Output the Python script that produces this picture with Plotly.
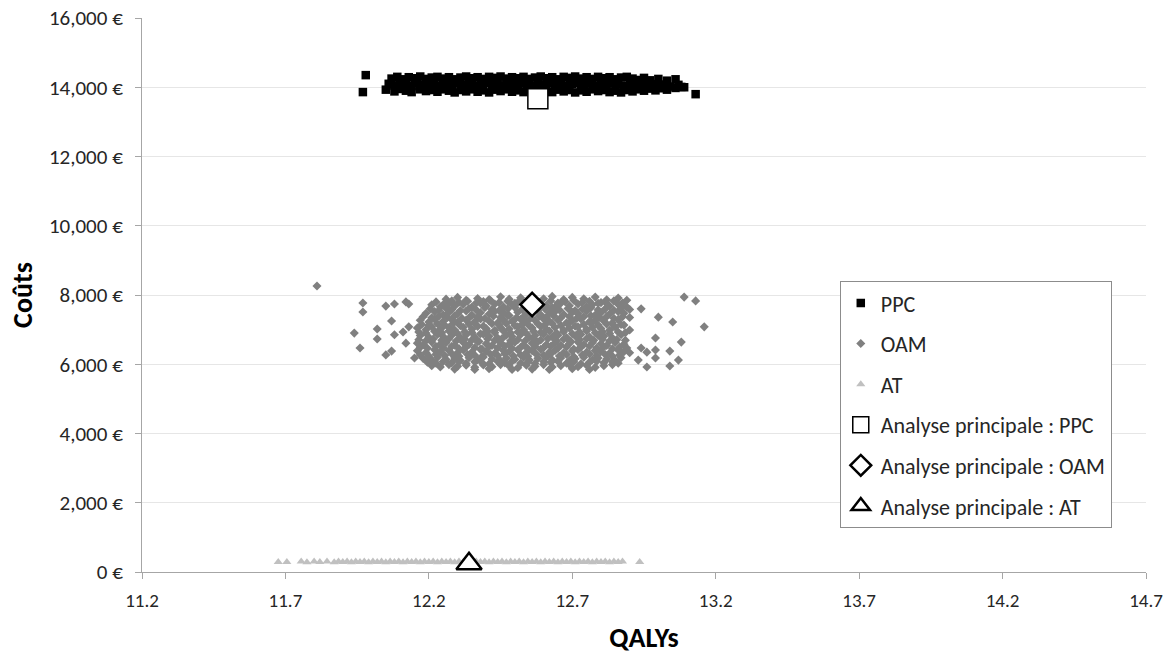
import plotly.graph_objects as go

# ---------------- data ----------------
x_ticks = [11.2, 11.7, 12.2, 12.7, 13.2, 13.7, 14.2, 14.7]
y_ticks = [0, 2000, 4000, 6000, 8000, 10000, 12000, 14000, 16000]

ppc = [
    (11.98, 14350), (11.97, 13860), (13.13, 13800),
    (12.07, 14250), (12.09, 14300), (12.11, 14230), (12.13, 14290), (12.15, 14260), (12.17, 14310),
    (12.19, 14240), (12.21, 14280), (12.23, 14300), (12.25, 14250), (12.27, 14290), (12.29, 14230),
    (12.31, 14280), (12.33, 14310), (12.35, 14260), (12.37, 14290), (12.39, 14240), (12.41, 14300),
    (12.43, 14270), (12.45, 14310), (12.47, 14250), (12.49, 14290), (12.51, 14260), (12.53, 14300),
    (12.55, 14240), (12.57, 14280), (12.59, 14310), (12.61, 14260), (12.63, 14290), (12.65, 14230),
    (12.67, 14300), (12.69, 14270), (12.71, 14310), (12.73, 14250), (12.75, 14290), (12.77, 14240),
    (12.79, 14300), (12.81, 14260), (12.83, 14290), (12.85, 14230), (12.87, 14280), (12.89, 14300),
    (12.91, 14250), (12.93, 14210), (12.95, 14270), (12.97, 14200), (13.00, 14240), (13.03, 14190),
    (13.06, 14230),
    (12.06, 14100), (12.08, 14050), (12.10, 14120), (12.12, 14070), (12.14, 14030), (12.16, 14110),
    (12.18, 14060), (12.20, 14130), (12.22, 14080), (12.24, 14040), (12.26, 14110), (12.28, 14070),
    (12.30, 14120), (12.32, 14060), (12.34, 14100), (12.36, 14040), (12.38, 14090), (12.40, 14130),
    (12.42, 14070), (12.44, 14110), (12.46, 14050), (12.48, 14100), (12.50, 14060), (12.52, 14120),
    (12.54, 14080), (12.56, 14040), (12.58, 14100), (12.60, 14070), (12.62, 14120), (12.64, 14060),
    (12.66, 14100), (12.68, 14040), (12.70, 14090), (12.72, 14130), (12.74, 14070), (12.76, 14110),
    (12.78, 14050), (12.80, 14100), (12.82, 14060), (12.84, 14120), (12.86, 14080), (12.88, 14040),
    (12.90, 14100), (12.92, 14060), (12.94, 14110), (12.96, 14050), (12.98, 14090), (13.00, 14030),
    (13.02, 14080), (13.04, 14020), (13.07, 14070), (13.09, 14000),
    (12.05, 13930), (12.08, 13880), (12.10, 13950), (12.12, 13900), (12.14, 13860), (12.17, 13940),
    (12.19, 13890), (12.21, 13920), (12.23, 13870), (12.25, 13940), (12.27, 13900), (12.29, 13850),
    (12.31, 13920), (12.33, 13880), (12.35, 13940), (12.37, 13870), (12.39, 13910), (12.41, 13850),
    (12.43, 13930), (12.45, 13890), (12.47, 13940), (12.49, 13870), (12.51, 13910), (12.53, 13860),
    (12.55, 13930), (12.61, 13900), (12.63, 13860), (12.65, 13930), (12.67, 13880), (12.69, 13920),
    (12.71, 13850), (12.73, 13910), (12.75, 13870), (12.77, 13940), (12.79, 13890), (12.81, 13920),
    (12.83, 13860), (12.85, 13900), (12.87, 13850), (12.89, 13920), (12.91, 13880), (12.93, 13940),
    (12.95, 13900), (12.97, 13960), (12.99, 13910), (13.01, 13970), (13.03, 13930), (13.06, 13980),
    (13.08, 14010),
]

oam = [
    # outliers left
    (11.81, 8260), (11.97, 7770), (11.97, 7510), (12.05, 7680), (12.08, 7740), (12.12, 7800),
    (12.13, 7740), (12.07, 7250), (11.94, 6900), (12.02, 7020), (12.02, 6730), (12.08, 6850),
    (11.96, 6470), (12.05, 6270), (12.07, 6380), (12.11, 6930), (12.13, 7080), (12.12, 6610),
    (12.15, 6180),
    # outliers right
    (13.09, 7940), (13.13, 7830), (13.16, 7080), (13.05, 7220), (13.00, 7360), (13.08, 6640),
    (13.04, 6380), (13.07, 6120), (13.04, 5950), (12.99, 6760), (12.99, 6410), (12.99, 6180),
    (12.96, 5920), (12.96, 6350), (12.94, 6470), (12.90, 6330), (12.94, 7600), (12.90, 6990),
    (12.88, 7130), (12.93, 6120),
    # core
    (12.26, 7880), (12.30, 7930), (12.33, 7850), (12.37, 7900), (12.41, 7870), (12.45, 7950),
    (12.48, 7880), (12.52, 7920), (12.60, 7890), (12.63, 7960), (12.67, 7870), (12.70, 7930),
    (12.74, 7890), (12.78, 7940), (12.82, 7860), (12.86, 7910), (12.89, 7850),
    (12.225, 7800), (12.255, 7760), (12.28, 7830), (12.305, 7790), (12.335, 7820), (12.365, 7770),
    (12.39, 7810), (12.415, 7840), (12.445, 7780), (12.475, 7820), (12.50, 7760), (12.525, 7810),
    (12.585, 7790), (12.625, 7830), (12.65, 7770), (12.675, 7810), (12.705, 7850), (12.735, 7780),
    (12.76, 7820), (12.79, 7760), (12.815, 7800), (12.845, 7830), (12.875, 7770),
    (12.21, 7720), (12.24, 7660), (12.27, 7750), (12.29, 7680), (12.32, 7730), (12.35, 7650),
    (12.38, 7760), (12.40, 7690), (12.43, 7740), (12.46, 7660), (12.49, 7720), (12.51, 7780),
    (12.54, 7670), (12.57, 7740), (12.61, 7700), (12.64, 7650), (12.66, 7760), (12.69, 7690),
    (12.72, 7740), (12.75, 7660), (12.77, 7720), (12.80, 7780), (12.83, 7680), (12.86, 7730),
    (12.89, 7650),
    (12.205, 7600), (12.235, 7560), (12.26, 7620), (12.28, 7580), (12.31, 7550), (12.34, 7610),
    (12.365, 7570), (12.395, 7630), (12.42, 7590), (12.445, 7550), (12.475, 7600), (12.50, 7640),
    (12.525, 7580), (12.55, 7610), (12.58, 7560), (12.605, 7600), (12.63, 7630), (12.655, 7570),
    (12.685, 7610), (12.71, 7550), (12.735, 7590), (12.765, 7630), (12.79, 7570), (12.815, 7600),
    (12.845, 7560), (12.87, 7610), (12.90, 7580),
    (12.19, 7470), (12.22, 7520), (12.25, 7430), (12.27, 7500), (12.30, 7460), (12.33, 7540),
    (12.35, 7420), (12.38, 7490), (12.41, 7450), (12.43, 7530), (12.46, 7480), (12.48, 7410),
    (12.51, 7500), (12.54, 7460), (12.56, 7540), (12.59, 7430), (12.62, 7490), (12.64, 7520),
    (12.67, 7440), (12.70, 7500), (12.72, 7460), (12.75, 7530), (12.78, 7420), (12.80, 7490),
    (12.83, 7450), (12.86, 7520), (12.88, 7470),
    (12.18, 7370), (12.21, 7340), (12.235, 7390), (12.265, 7350), (12.29, 7400), (12.315, 7330),
    (12.345, 7380), (12.37, 7360), (12.395, 7320), (12.425, 7390), (12.45, 7350), (12.475, 7400),
    (12.505, 7340), (12.53, 7370), (12.555, 7330), (12.585, 7390), (12.61, 7360), (12.635, 7400),
    (12.66, 7340), (12.69, 7380), (12.715, 7320), (12.74, 7370), (12.765, 7400), (12.795, 7350),
    (12.82, 7380), (12.845, 7330), (12.875, 7370), (12.90, 7350),
    (12.17, 7270), (12.20, 7220), (12.22, 7300), (12.25, 7240), (12.28, 7290), (12.30, 7210),
    (12.33, 7280), (12.36, 7230), (12.38, 7310), (12.41, 7250), (12.44, 7200), (12.46, 7280),
    (12.49, 7240), (12.52, 7300), (12.54, 7220), (12.57, 7270), (12.60, 7310), (12.62, 7240),
    (12.65, 7280), (12.68, 7200), (12.70, 7260), (12.73, 7310), (12.76, 7230), (12.78, 7280),
    (12.81, 7250), (12.84, 7200), (12.86, 7290),
    (12.175, 7150), (12.20, 7120), (12.23, 7170), (12.255, 7130), (12.285, 7180), (12.31, 7110),
    (12.34, 7160), (12.365, 7140), (12.39, 7100), (12.42, 7170), (12.445, 7130), (12.47, 7180),
    (12.50, 7120), (12.525, 7150), (12.55, 7110), (12.58, 7170), (12.605, 7140), (12.63, 7180),
    (12.66, 7120), (12.685, 7160), (12.71, 7100), (12.74, 7150), (12.765, 7180), (12.79, 7130),
    (12.82, 7160), (12.845, 7110), (12.87, 7150),
    (12.16, 7050), (12.19, 7000), (12.21, 7080), (12.24, 7020), (12.27, 7060), (12.29, 6990),
    (12.32, 7070), (12.35, 7010), (12.37, 7090), (12.40, 7030), (12.43, 6980), (12.45, 7060),
    (12.48, 7020), (12.51, 7080), (12.53, 7000), (12.56, 7050), (12.59, 7090), (12.61, 7010),
    (12.64, 7060), (12.67, 6990), (12.69, 7040), (12.72, 7080), (12.75, 7010), (12.77, 7060),
    (12.80, 7030), (12.83, 6980), (12.85, 7070),
    (12.165, 6930), (12.19, 6900), (12.22, 6950), (12.245, 6910), (12.27, 6960), (12.30, 6890),
    (12.325, 6940), (12.35, 6920), (12.38, 6880), (12.405, 6950), (12.43, 6910), (12.46, 6960),
    (12.485, 6900), (12.51, 6930), (12.54, 6890), (12.565, 6950), (12.59, 6920), (12.62, 6960),
    (12.645, 6900), (12.67, 6940), (12.70, 6880), (12.725, 6930), (12.75, 6960), (12.78, 6910),
    (12.805, 6940), (12.83, 6890), (12.86, 6930), (12.885, 6910),
    (12.17, 6830), (12.20, 6780), (12.23, 6860), (12.25, 6800), (12.28, 6840), (12.31, 6770),
    (12.33, 6850), (12.36, 6790), (12.39, 6870), (12.41, 6810), (12.44, 6760), (12.47, 6840),
    (12.49, 6800), (12.52, 6860), (12.55, 6780), (12.57, 6830), (12.60, 6870), (12.63, 6790),
    (12.65, 6840), (12.68, 6770), (12.71, 6820), (12.73, 6860), (12.76, 6790), (12.79, 6840),
    (12.81, 6810), (12.84, 6760), (12.87, 6850),
    (12.165, 6710), (12.19, 6680), (12.215, 6730), (12.245, 6690), (12.27, 6740), (12.295, 6670),
    (12.325, 6720), (12.35, 6700), (12.375, 6660), (12.405, 6730), (12.43, 6690), (12.455, 6740),
    (12.485, 6680), (12.51, 6710), (12.535, 6670), (12.565, 6730), (12.59, 6700), (12.615, 6740),
    (12.645, 6680), (12.67, 6720), (12.695, 6660), (12.725, 6710), (12.75, 6740), (12.775, 6690),
    (12.805, 6720), (12.83, 6670), (12.855, 6710), (12.885, 6690),
    (12.16, 6610), (12.18, 6560), (12.21, 6640), (12.24, 6580), (12.26, 6620), (12.29, 6550),
    (12.32, 6630), (12.34, 6570), (12.37, 6650), (12.40, 6590), (12.42, 6540), (12.45, 6620),
    (12.48, 6580), (12.50, 6640), (12.53, 6560), (12.56, 6610), (12.58, 6650), (12.61, 6570),
    (12.64, 6620), (12.66, 6550), (12.69, 6600), (12.72, 6640), (12.74, 6570), (12.77, 6620),
    (12.80, 6590), (12.82, 6540), (12.85, 6630), (12.88, 6580),
    (12.17, 6490), (12.195, 6460), (12.225, 6510), (12.25, 6470), (12.28, 6520), (12.305, 6450),
    (12.33, 6500), (12.36, 6480), (12.385, 6440), (12.41, 6510), (12.44, 6470), (12.465, 6520),
    (12.49, 6460), (12.52, 6490), (12.545, 6450), (12.57, 6510), (12.60, 6480), (12.625, 6520),
    (12.65, 6460), (12.68, 6500), (12.705, 6440), (12.73, 6490), (12.76, 6520), (12.785, 6470),
    (12.81, 6500), (12.84, 6450), (12.865, 6490), (12.89, 6470),
    (12.16, 6390), (12.19, 6340), (12.22, 6420), (12.24, 6360), (12.27, 6400), (12.30, 6330),
    (12.32, 6410), (12.35, 6350), (12.38, 6430), (12.40, 6370), (12.43, 6320), (12.46, 6400),
    (12.48, 6360), (12.51, 6420), (12.54, 6340), (12.56, 6390), (12.59, 6430), (12.62, 6350),
    (12.64, 6400), (12.67, 6330), (12.70, 6380), (12.72, 6420), (12.75, 6350), (12.78, 6400),
    (12.80, 6370), (12.83, 6320), (12.86, 6410), (12.88, 6360),
    (12.17, 6270), (12.20, 6240), (12.225, 6290), (12.255, 6250), (12.28, 6300), (12.305, 6230),
    (12.335, 6280), (12.36, 6260), (12.385, 6220), (12.415, 6290), (12.44, 6250), (12.465, 6300),
    (12.495, 6240), (12.52, 6270), (12.545, 6230), (12.575, 6290), (12.60, 6260), (12.625, 6300),
    (12.655, 6240), (12.68, 6280), (12.705, 6220), (12.735, 6270), (12.76, 6300), (12.785, 6250),
    (12.815, 6280), (12.84, 6230), (12.865, 6270),
    (12.18, 6170), (12.21, 6120), (12.23, 6200), (12.26, 6140), (12.29, 6180), (12.31, 6110),
    (12.34, 6190), (12.37, 6130), (12.39, 6210), (12.42, 6150), (12.45, 6100), (12.47, 6180),
    (12.50, 6140), (12.53, 6200), (12.55, 6120), (12.58, 6170), (12.61, 6210), (12.63, 6130),
    (12.66, 6180), (12.69, 6110), (12.71, 6160), (12.74, 6200), (12.77, 6130), (12.79, 6180),
    (12.82, 6150), (12.85, 6100), (12.87, 6190),
    (12.195, 6060), (12.225, 6030), (12.25, 6080), (12.28, 6040), (12.305, 6090), (12.33, 6020),
    (12.36, 6070), (12.385, 6050), (12.41, 6010), (12.44, 6080), (12.465, 6040), (12.49, 6090),
    (12.52, 6030), (12.545, 6060), (12.57, 6020), (12.60, 6080), (12.625, 6050), (12.65, 6090),
    (12.68, 6030), (12.705, 6070), (12.73, 6010), (12.76, 6060), (12.785, 6090), (12.81, 6040),
    (12.84, 6070), (12.86, 6030),
    (12.21, 5960), (12.24, 5920), (12.27, 5990), (12.30, 5940), (12.33, 5970), (12.36, 5910),
    (12.39, 5980), (12.42, 5930), (12.45, 5990), (12.48, 5950), (12.51, 5900), (12.54, 5970),
    (12.57, 5940), (12.60, 5990), (12.63, 5920), (12.66, 5960), (12.69, 5990), (12.72, 5930),
    (12.75, 5970), (12.78, 5910), (12.81, 5960), (12.84, 5990),
    (12.29, 5860), (12.36, 5850), (12.41, 5870), (12.49, 5850), (12.56, 5860), (12.62, 5850),
    (12.70, 5870), (12.76, 5850),
]

at = [
    (11.675, 290), (11.705, 290), (11.755, 300), (11.775, 280), (11.80, 300), (11.82, 290),
    (11.845, 300), (11.87, 285), (11.885, 300), (11.90, 290), (11.915, 305), (11.93, 285),
    (11.945, 300), (11.96, 290), (11.975, 305), (11.99, 285), (12.005, 300), (12.02, 290),
    (12.035, 305), (12.05, 285), (12.065, 300), (12.08, 290), (12.095, 305), (12.11, 285),
    (12.125, 300), (12.14, 290), (12.155, 305), (12.17, 285), (12.185, 300), (12.20, 290),
    (12.215, 305), (12.23, 285), (12.245, 300), (12.26, 290), (12.275, 305), (12.29, 285),
    (12.305, 300), (12.32, 290), (12.335, 305), (12.35, 285), (12.365, 300), (12.38, 290),
    (12.395, 305), (12.41, 285), (12.425, 300), (12.44, 290), (12.455, 305), (12.47, 285),
    (12.485, 300), (12.50, 290), (12.515, 305), (12.53, 285), (12.545, 300), (12.56, 290),
    (12.575, 305), (12.59, 285), (12.605, 300), (12.62, 290), (12.635, 305), (12.65, 285),
    (12.665, 300), (12.68, 290), (12.695, 305), (12.71, 285), (12.725, 300), (12.74, 290),
    (12.755, 305), (12.77, 285), (12.785, 300), (12.80, 290), (12.815, 305), (12.83, 285),
    (12.845, 300), (12.86, 290), (12.875, 300), (12.935, 290),
]

main_ppc = (12.58, 13670)
main_oam = (12.56, 7725)
main_at = (12.34, 240)

ppc_q = [p[0] for p in ppc]
ppc_c = [p[1] for p in ppc]
oam_q = [p[0] for p in oam]
oam_c = [p[1] for p in oam]
at_q = [p[0] for p in at]
at_c = [p[1] for p in at]

FONT = "Carlito, Calibri, Lato, sans-serif"
TXT = "#262626"

fig = go.Figure()
fig.add_trace(go.Scatter(x=ppc_q, y=ppc_c, mode="markers", name="PPC", legendgroup="a",
                         marker=dict(symbol="square", size=8.5, color="#000000")))
fig.add_trace(go.Scatter(x=oam_q, y=oam_c, mode="markers", name="OAM", legendgroup="b",
                         marker=dict(symbol="diamond", size=7, color="#808080")))
fig.add_trace(go.Scatter(x=at_q, y=at_c, mode="markers", name="AT", legendgroup="c",
                         marker=dict(symbol="triangle-up", size=8, color="#c0c0c0")))
fig.add_trace(go.Scatter(x=[main_ppc[0]], y=[main_ppc[1]], mode="markers",
                         name="Analyse principale : PPC", legendgroup="d",
                         marker=dict(symbol="square", size=20, color="white",
                                     line=dict(color="black", width=1.5))))
fig.add_trace(go.Scatter(x=[main_oam[0]], y=[main_oam[1]], mode="markers",
                         name="Analyse principale : OAM", legendgroup="e",
                         marker=dict(symbol="diamond", size=18, color="white",
                                     line=dict(color="black", width=2.5))))
fig.add_trace(go.Scatter(x=[main_at[0]], y=[main_at[1]], mode="markers",
                         name="Analyse principale : AT", legendgroup="f",
                         marker=dict(symbol="triangle-up", size=22, color="white",
                                     line=dict(color="black", width=2.5))))

fig.update_layout(
    width=1172, height=655,
    margin=dict(l=142, r=26, t=18, b=83, autoexpand=False),
    paper_bgcolor="white", plot_bgcolor="white",
    font=dict(family=FONT, size=20, color=TXT),
    showlegend=True,
    legend=dict(x=0.695, y=0.525, xanchor="left", yanchor="top",
                bgcolor="white", bordercolor="#8c8c8c", borderwidth=1,
                font=dict(size=22, color=TXT), tracegroupgap=9,
                itemsizing="trace"),
)
fig.update_xaxes(
    range=[11.2, 14.7], tickvals=x_ticks, ticktext=[f"{v:.1f}" for v in x_ticks],
    tickfont=dict(size=19, color=TXT), ticklabelstandoff=5, automargin=False,
    showgrid=False, zeroline=False, showline=True, linecolor="#a6a6a6", linewidth=1,
    ticks="outside", ticklen=6, tickcolor="#a6a6a6",
    title=dict(text="<b>QALYs</b>", font=dict(size=28, color="#000000"), standoff=16),
)
fig.update_yaxes(
    range=[0, 16000], tickvals=y_ticks, ticktext=[f"{v:,} €" for v in y_ticks],
    tickfont=dict(size=21, color=TXT), ticklabelstandoff=8, automargin=False,
    showgrid=True, gridcolor="#e6e6e6", gridwidth=1, zeroline=False,
    showline=True, linecolor="#a6a6a6", linewidth=1,
    ticks="outside", ticklen=6, tickcolor="#a6a6a6",
    title=dict(text="<b>Coûts</b>", font=dict(size=28, color="#000000"), standoff=8),
)

fig.write_html("out.html")
